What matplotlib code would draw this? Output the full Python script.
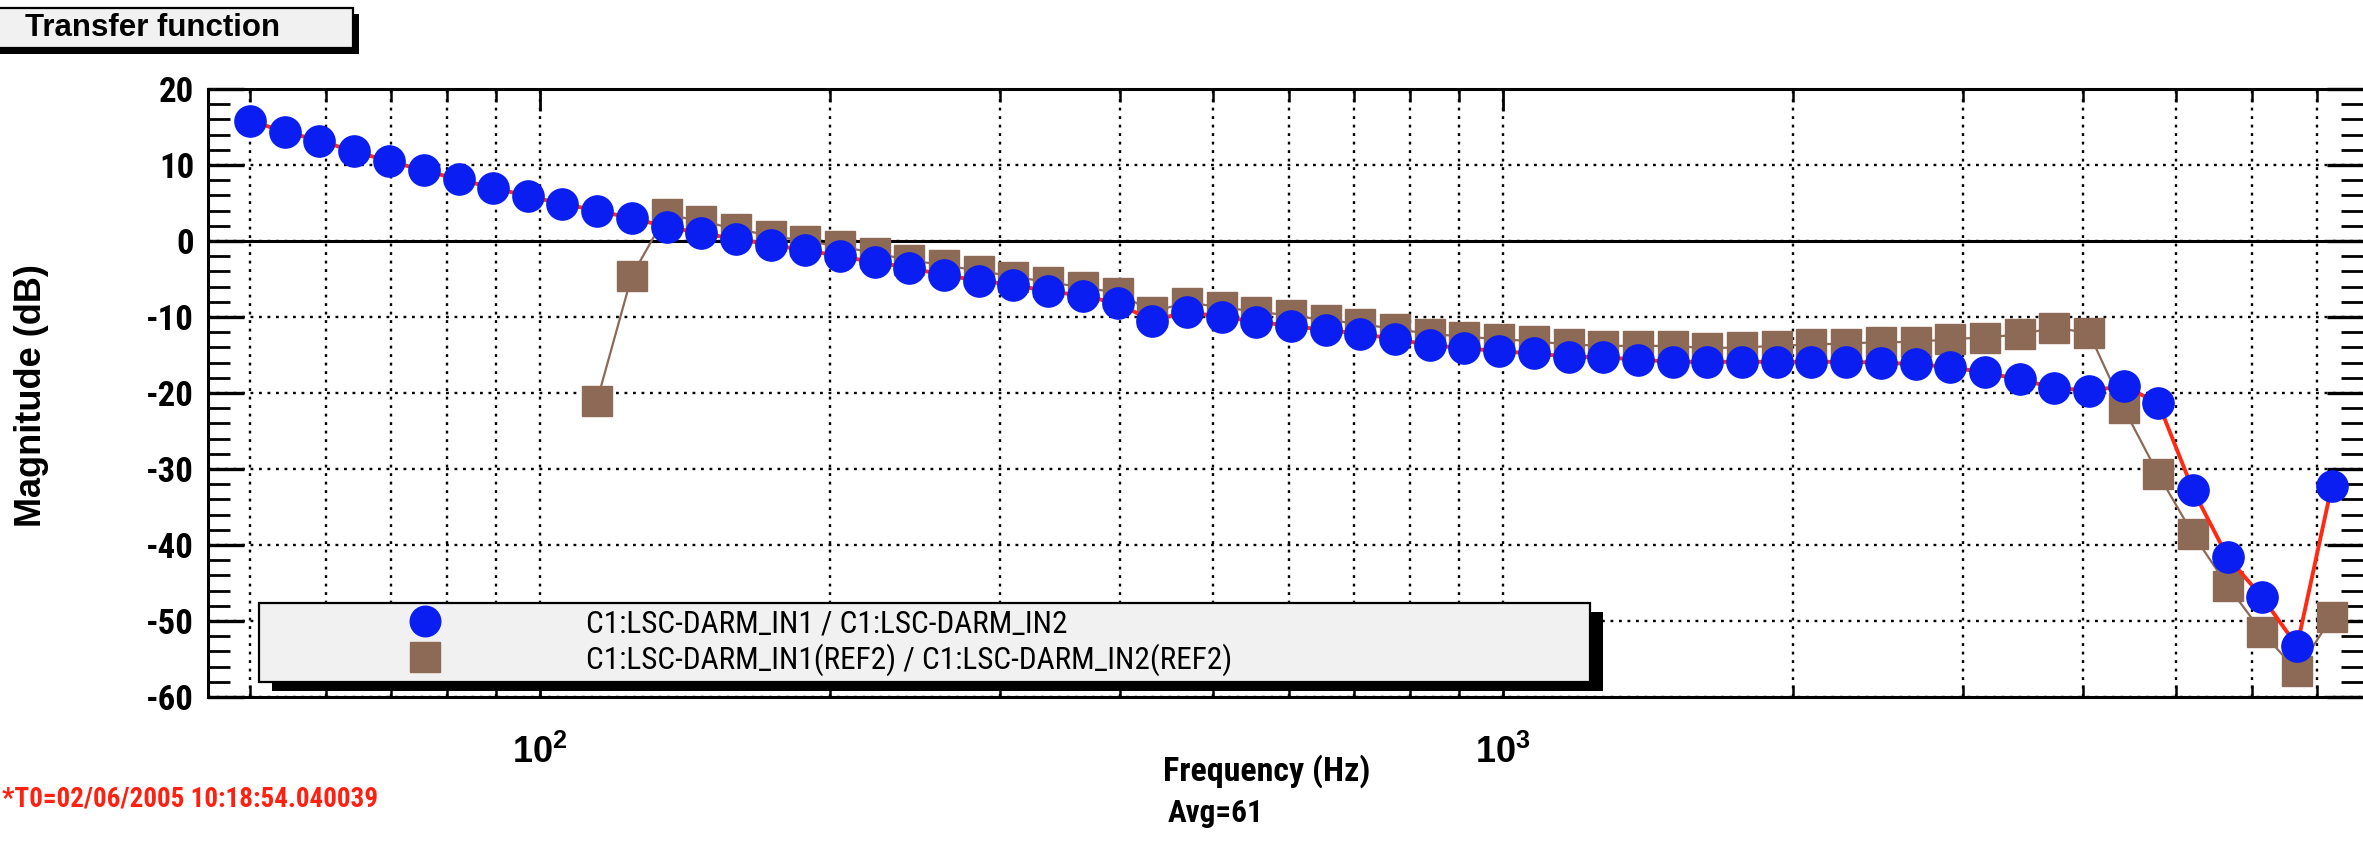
import os
import matplotlib
matplotlib.use('Agg')
import matplotlib.pyplot as plt
from matplotlib import font_manager
from matplotlib.font_manager import FontProperties
from matplotlib.lines import Line2D
from matplotlib.patches import Rectangle
from matplotlib.ticker import LogLocator, NullFormatter, MultipleLocator

# swept sine frequency points (Hz)
freq = [50.0, 54.3, 59.0, 64.1, 69.7, 75.7, 82.3, 89.4, 97.1, 105.5,
        114.6, 124.5, 135.3, 147.0, 159.7, 173.5, 188.5, 204.9, 222.6, 241.8,
        262.7, 285.5, 310.1, 337.0, 366.1, 397.8, 432.2, 469.6, 510.2, 554.3,
        602.3, 654.4, 711.0, 772.4, 839.3, 911.8, 990.7, 1076, 1170, 1271,
        1381, 1500, 1630, 1771, 1924, 2090, 2271, 2467, 2681, 2913,
        3165, 3438, 3736, 4059, 4410, 4791, 5206, 5656, 6145, 6676, 7254]

# C1:LSC-DARM_IN1 / C1:LSC-DARM_IN2 (dB)
mag_now = [15.8, 14.4, 13.2, 11.8, 10.5, 9.3, 8.1, 7.0, 5.9, 4.9,
           4.0, 3.0, 1.9, 1.0, 0.3, -0.5, -1.2, -2.0, -2.8, -3.5,
           -4.5, -5.2, -5.8, -6.6, -7.2, -8.2, -10.5, -9.3, -10.0, -10.6,
           -11.2, -11.7, -12.2, -12.9, -13.7, -14.1, -14.5, -14.8, -15.2, -15.3,
           -15.6, -15.9, -15.9, -15.9, -15.9, -15.9, -15.9, -16.0, -16.2, -16.6,
           -17.3, -18.2, -19.3, -19.7, -19.1, -21.3, -32.8, -41.6, -46.9, -53.3, -32.2]

# reference trace (REF2) starts at the 11th frequency point
ref_start = 10
mag_ref = [-21.0, -4.6, 3.5, 2.6, 1.6, 0.7, 0.0, -0.7, -1.6, -2.5,
           -3.2, -3.9, -4.7, -5.4, -6.1, -6.8, -9.3, -8.1, -8.7, -9.3,
           -9.8, -10.4, -10.9, -11.6, -12.2, -12.6, -12.9, -13.2, -13.6, -13.8,
           -13.8, -13.8, -14.1, -14.0, -13.8, -13.6, -13.5, -13.3, -13.3, -12.9,
           -12.7, -12.3, -11.4, -12.1, -22.0, -30.7, -38.6, -45.4, -51.5, -56.6, -49.5]

labels = ['C1:LSC-DARM_IN1 / C1:LSC-DARM_IN2',
          'C1:LSC-DARM_IN1(REF2) / C1:LSC-DARM_IN2(REF2)']
xtick_vals = [100, 1000]
xtick_labels = [r'$\mathbf{10^{2}}$', r'$\mathbf{10^{3}}$']

BLUE = '#0a1ef2'
RED = '#ff2a14'
BROWN = '#8c6a56'

W, H = 2363, 846

plt.rcParams['font.family'] = ['Liberation Sans', 'DejaVu Sans']
plt.rcParams['axes.unicode_minus'] = False
plt.rcParams['mathtext.fontset'] = 'custom'
plt.rcParams['mathtext.rm'] = 'Liberation Sans'
plt.rcParams['mathtext.bf'] = 'Liberation Sans:bold'


def narrow_file(bold):
    # look for a condensed sans face, Arial Narrow look-alike first
    found = {}
    for f in font_manager.fontManager.ttflist:
        base = os.path.basename(f.fname).lower()
        if 'narrow' not in base and 'condensed' not in base:
            continue
        if 'italic' in base or 'oblique' in base:
            continue
        if ('bold' in base) != bold:
            continue
        if 'semi' in base or 'extra' in base or 'light' in base or 'black' in base:
            continue
        for key in ['liberation', 'roboto', 'opensans', 'dejavu', 'noto']:
            if key in base.replace(' ', '').replace('-', ''):
                found.setdefault(key, f.fname)
        found.setdefault('any', f.fname)
    for key in ['liberation', 'roboto', 'opensans', 'dejavu', 'noto', 'any']:
        if key in found:
            return found[key]
    return None


def nfont(size, bold=False):
    path = narrow_file(bold)
    if path:
        return FontProperties(fname=path, size=size)
    return FontProperties(family='Liberation Sans', size=size * 0.85,
                          weight='bold' if bold else 'normal')


def fx(x):
    return x / W


def fy(y):
    return 1 - y / H


fig = plt.figure(figsize=(W / 100, H / 100), dpi=100)
ax = fig.add_axes([fx(208), fy(697), fx(2363) - fx(208), fy(89) - fy(697)])

# data
ax.plot(freq[ref_start:], mag_ref, color=BROWN, lw=1.6, marker='s', ms=22,
        mfc=BROWN, mec=BROWN, zorder=3)
ax.plot(freq, mag_now, color=RED, lw=2.8, marker='o', ms=22.5,
        mfc=BLUE, mec=BLUE, zorder=4)

ax.set_xscale('log')
ax.set_xlim(45.2, 7816)
ax.set_ylim(-60, 20)

ax.set_xticks(xtick_vals, labels=xtick_labels)
ax.xaxis.set_minor_locator(LogLocator(base=10, subs=[2, 3, 4, 5, 6, 7, 8, 9], numticks=20))
ax.xaxis.set_minor_formatter(NullFormatter())
ax.yaxis.set_major_locator(MultipleLocator(10))
ax.yaxis.set_minor_locator(MultipleLocator(2))

ax.tick_params(axis='y', which='major', direction='in', length=26, width=2.4,
               left=True, right=True, pad=10)
ax.tick_params(axis='y', which='minor', direction='in', length=16, width=2.0,
               left=True, right=True)
ax.tick_params(axis='x', which='major', direction='in', length=16, width=2.0,
               top=True, bottom=True, pad=27, labelsize=26)
ax.tick_params(axis='x', which='minor', direction='in', length=9, width=1.8,
               top=True, bottom=True)
ytick_font = nfont(25, bold=True)
for lab in ax.get_yticklabels():
    lab.set_fontproperties(ytick_font)

ax.grid(True, which='both', axis='x', color='black', ls=(0, (1.2, 2.4)), lw=1.7)
ax.grid(True, which='major', axis='y', color='black', ls=(0, (1.2, 2.4)), lw=1.7)
ax.axhline(0, color='black', lw=2.2, zorder=2)
ax.set_axisbelow(True)

for s in ['left', 'bottom', 'top']:
    ax.spines[s].set_linewidth(2.2)
ax.spines['right'].set_visible(False)

# legend box with offset shadow
ax.add_patch(Rectangle((fx(272), fy(691)), fx(1603) - fx(272), fy(612) - fy(691),
                       transform=fig.transFigure, facecolor='black', edgecolor='none',
                       clip_on=False, zorder=6))
ax.add_patch(Rectangle((fx(259), fy(682)), fx(1590) - fx(259), fy(603) - fy(682),
                       transform=fig.transFigure, facecolor='#f1f1f1', edgecolor='black',
                       lw=1.6, clip_on=False, zorder=6.1))
handles = [Line2D([], [], ls='none', marker='o', ms=22, mfc=BLUE, mec=BLUE),
           Line2D([], [], ls='none', marker='s', ms=21, mfc=BROWN, mec=BROWN)]
leg = ax.legend(handles, labels, loc='center left',
                bbox_to_anchor=(fx(259), fy(682), fx(1590) - fx(259), fy(603) - fy(682)),
                bbox_transform=fig.transFigure, mode='expand', borderaxespad=0,
                frameon=False, numpoints=1, borderpad=0.3, handlelength=10.0,
                handletextpad=0.17, labelspacing=0.15,
                prop=nfont(22.5))
leg.set_zorder(7)

# title box top left
fig.add_artist(Rectangle((fx(-4), fy(54)), fx(363), fy(14) - fy(54),
                         transform=fig.transFigure, facecolor='black', edgecolor='none'))
fig.add_artist(Rectangle((fx(-10), fy(48)), fx(363), fy(8) - fy(48),
                         transform=fig.transFigure, facecolor='#f1f1f1',
                         edgecolor='black', lw=1.6))
fig.text(fx(25), fy(28), 'Transfer function', fontsize=22.5, fontweight='bold',
         ha='left', va='center')

fig.text(fx(32), fy(396), 'Magnitude (dB)', rotation=90, fontsize=26,
         fontweight='bold', ha='center', va='center')
fig.text(fx(1163), fy(771), 'Frequency (Hz)', fontproperties=nfont(24.5, bold=True),
         ha='left', va='center')
fig.text(fx(2), fy(799), '*T0=02/06/2005 10:18:54.040039', fontproperties=nfont(19.5, bold=True),
         color='#ff2010', ha='left', va='center')
fig.text(fx(1168), fy(813), 'Avg=61', fontproperties=nfont(22.5, bold=True),
         ha='left', va='center')

fig.savefig('out.png', dpi=100)
